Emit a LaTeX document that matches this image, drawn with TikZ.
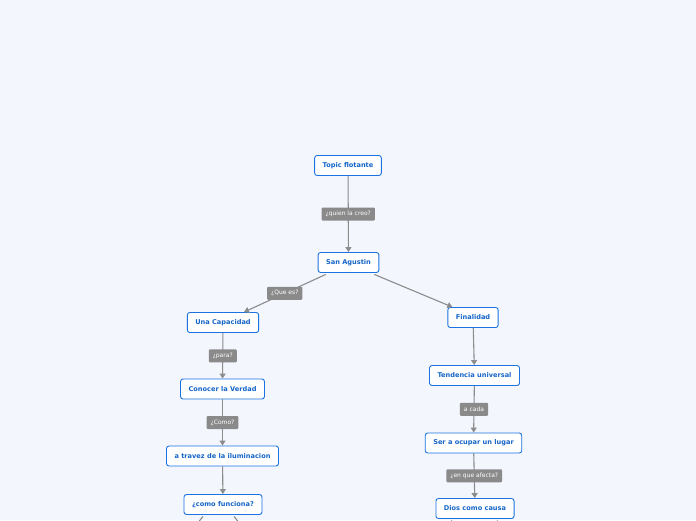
\documentclass[tikz,border=0pt]{standalone}
\usepackage{fontspec}
\setmainfont{DejaVu Sans}
\usetikzlibrary{arrows.meta}
\definecolor{bg}{HTML}{F3F6FD}
\definecolor{nodeblue}{HTML}{1A73E0}
\definecolor{txtblue}{HTML}{1565C8}
\definecolor{lblgrey}{HTML}{8A8A8A}
\definecolor{linegrey}{HTML}{8C8C8C}
\tikzset{
  topic/.style={draw=nodeblue, fill=white, line width=0.9pt, rounded corners=2.5pt,
    font=\fontsize{6.6}{7}\selectfont\bfseries, text=txtblue, minimum height=20pt, inner xsep=8pt},
  lbl/.style={fill=lblgrey, text=white, font=\fontsize{6}{6}\selectfont, rounded corners=1pt,
    minimum height=13pt, inner xsep=4pt, inner ysep=1pt},
  conn/.style={draw=linegrey, line width=1.1pt, -{Triangle[length=5pt,width=6pt]}},
  stub/.style={draw=linegrey, line width=1.1pt}
}
\begin{document}
\begin{tikzpicture}[x=1pt,y=-1pt]
\fill[bg] (0,0) rectangle (696,520);
\useasboundingbox (0,0) rectangle (696,520);
\begin{scope}
\clip (0,0) rectangle (696,520);
\begin{scope}[yshift=-1.5pt]
\node[topic] (tf) at (348,164) {Topic flotante};
\node[topic] (sa) at (348.5,261) {San Agustin};
\node[topic] (uc) at (223,321) {Una Capacidad};
\node[topic] (cv) at (222.5,387.5) {Conocer la Verdad};
\node[topic] (ti) at (222.5,454.5) {a travez de la iluminacion};
\node[topic] (cf) at (223,503) {¿como funciona?};
\node[topic] (fi) at (473,316) {Finalidad};
\node[topic] (tu) at (474.5,374) {Tendencia universal};
\node[topic] (so) at (473.5,441.5) {Ser a ocupar un lugar};
\node[topic] (dc) at (475,507) {Dios como causa};

\coordinate (cf1) at (194,526);
\coordinate (cf2) at (243,526);
\coordinate (dc1) at (448,526);
\coordinate (dc2) at (500,526);
\end{scope}

\draw[conn] (tf) -- node[lbl] {¿quien la creo?} (sa);
\draw[conn] ([xshift=8pt,yshift=-1.5pt]sa.south west) -- node[lbl,pos=0.5] {¿Que es?} ([xshift=21pt]uc.north);
\draw[conn] ([xshift=-5pt,yshift=-1.5pt]sa.south east) -- ([xshift=5pt]fi.north west);
\draw[conn] (uc) -- node[lbl] {¿para?} (cv);
\draw[conn] (cv) -- node[lbl] {¿Como?} (ti);
\draw[conn] (ti) -- (cf);
\draw[conn] (fi) -- (tu);
\draw[conn] (tu) -- node[lbl] {a cada} (so);
\draw[conn] (so) -- node[lbl] {¿en que afecta?} (dc);
\draw[stub] ([xshift=-20pt,yshift=-1.5pt]cf.south) -- (cf1);
\draw[stub] ([xshift=11pt,yshift=-1.5pt]cf.south) -- (cf2);
\draw[stub] ([xshift=-23pt,yshift=-1.5pt]dc.south) -- (dc1);
\draw[stub] ([xshift=22pt,yshift=-1.5pt]dc.south) -- (dc2);
\end{scope}
\end{tikzpicture}
\end{document}
